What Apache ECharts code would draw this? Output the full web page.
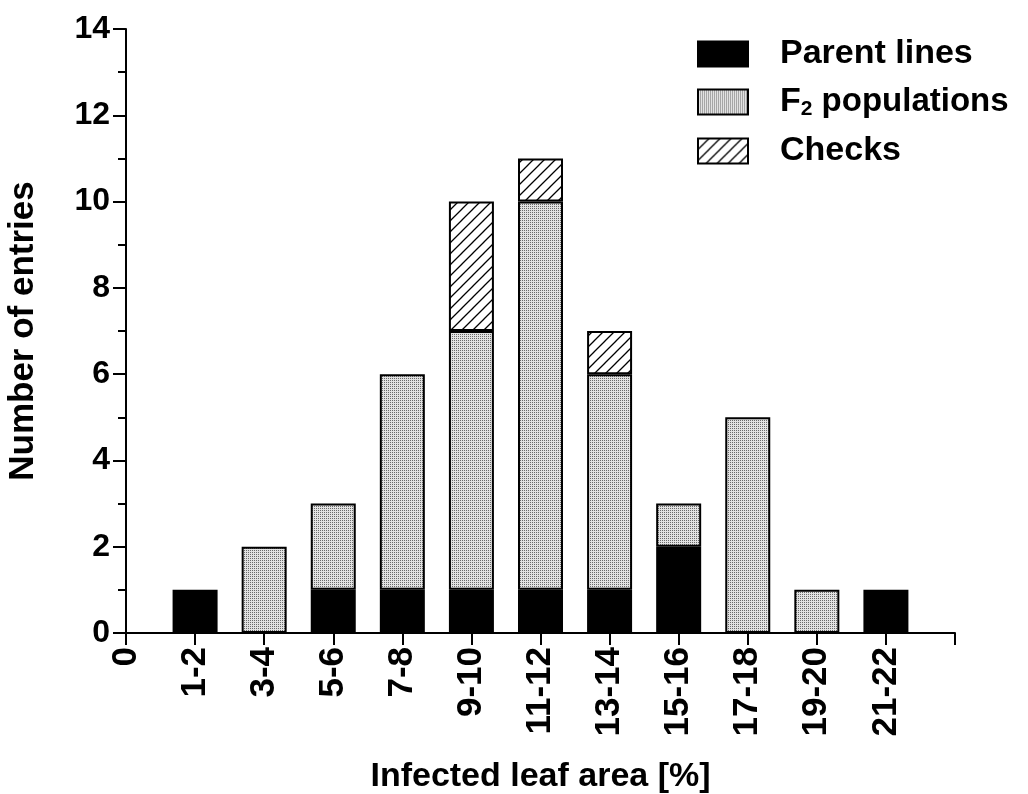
<!DOCTYPE html>
<html>
<head>
<meta charset="utf-8">
<script src="https://cdn.jsdelivr.net/npm/echarts@6/dist/echarts.min.js"></script>
<style>
  html, body { margin: 0; padding: 0; background: #fff; }
  #chart { width: 1028px; height: 794px; }
</style>
</head>
<body>
<div id="chart"></div>
<script>
// ---- data ----
var categories = ["1-2", "3-4", "5-6", "7-8", "9-10", "11-12", "13-14", "15-16", "17-18", "19-20", "21-22"];
var xTickLabels = ["0"].concat(categories).concat([""]);
var parentLines = [1, 0, 1, 1, 1, 1, 1, 2, 0, 0, 1];
var f2Populations = [0, 2, 2, 5, 6, 9, 5, 1, 5, 1, 0];
var checks = [0, 0, 0, 0, 3, 1, 1, 0, 0, 0, 0];
var seriesNames = ["Parent lines", "F2 populations", "Checks"];

// ---- patterns ----
function stipple() {
  var c = document.createElement('canvas');
  c.width = 2; c.height = 2;
  var g = c.getContext('2d');
  g.fillStyle = '#e2e2e2'; g.fillRect(0, 0, 2, 2);
  g.fillStyle = '#6a6a6a'; g.fillRect(0, 0, 1, 1);
  return c;
}
function hatch() {
  var s = 11;
  var c = document.createElement('canvas');
  c.width = s; c.height = s;
  var g = c.getContext('2d');
  g.fillStyle = '#ffffff'; g.fillRect(0, 0, s, s);
  g.strokeStyle = '#000'; g.lineWidth = 1.3;
  g.beginPath();
  g.moveTo(-1, s + 1); g.lineTo(s + 1, -1);
  g.moveTo(-1, 1); g.lineTo(1, -1);
  g.moveTo(s - 1, s + 1); g.lineTo(s + 1, s - 1);
  g.stroke();
  return c;
}
var fills = ['#000000', { image: stipple(), repeat: 'repeat' }, { image: hatch(), repeat: 'repeat' }];
var values = [parentLines, f2Populations, checks];

// pad: empty slot at "0" and at the axis end; zero counts draw nothing
function padded(arr) {
  return ['-'].concat(arr.map(function (v) { return v === 0 ? '-' : v; })).concat(['-']);
}

var FONT = 'Liberation Sans, Arial, Helvetica, sans-serif';

var chart = echarts.init(document.getElementById('chart'), null, { renderer: 'canvas' });

var series = seriesNames.map(function (name, k) {
  return {
    name: name,
    type: 'bar',
    stack: 'total',
    barWidth: 45,
    data: padded(values[k]),
    itemStyle: { color: fills[k], borderColor: '#000', borderWidth: 2 },
    emphasis: { disabled: true },
    animation: false
  };
});

chart.setOption({
  backgroundColor: '#ffffff',
  animation: false,
  grid: { left: 126, right: 73, top: 29, bottom: 161, containLabel: false, outerBoundsMode: 'none' },
  legend: {
    left: 692, top: 32,
    orient: 'vertical',
    itemWidth: 50, itemHeight: 25, itemGap: 14,
    icon: 'rect',
    selectedMode: false,
    data: seriesNames,
    formatter: function (n) {
      if (n === 'F2 populations') return '{a|F}{s|2}{b| populations}';
      return '{a|' + n + '}';
    },
    textStyle: {
      padding: [0, 0, 0, 27],
      rich: {
        a: { fontFamily: FONT, fontWeight: 'bold', fontSize: 34, lineHeight: 36, color: '#000' },
        b: { fontFamily: FONT, fontWeight: 'bold', fontSize: 33, lineHeight: 36, color: '#000' },
        s: { fontFamily: FONT, fontWeight: 'bold', fontSize: 21, lineHeight: 16, verticalAlign: 'bottom', color: '#000' }
      }
    }
  },
  xAxis: {
    type: 'category',
    data: xTickLabels,
    boundaryGap: false,
    splitLine: { show: false },
    axisLine: { show: true, lineStyle: { color: '#000', width: 2 } },
    axisTick: { show: true, length: 12, interval: 0, lineStyle: { color: '#000', width: 2 } },
    axisLabel: {
      rotate: 90, margin: 14, interval: 0,
      fontFamily: FONT, fontWeight: 'bold', fontSize: 35, color: '#000'
    },
    name: 'Infected leaf area [%]',
    nameLocation: 'middle',
    nameGap: 127,
    nameTextStyle: { fontFamily: FONT, fontWeight: 'bold', fontSize: 34, color: '#000' }
  },
  yAxis: {
    type: 'value',
    min: 0, max: 14, interval: 2,
    splitLine: { show: false },
    axisLine: { show: true, lineStyle: { color: '#000', width: 2 } },
    axisTick: { show: true, length: 13, lineStyle: { color: '#000', width: 2 } },
    minorTick: { show: true, splitNumber: 2, length: 8, lineStyle: { color: '#000', width: 2 } },
    axisLabel: { margin: 16, fontFamily: FONT, fontWeight: 'bold', fontSize: 32, color: '#000' },
    name: 'Number of entries',
    nameLocation: 'middle',
    nameGap: 85,
    nameTextStyle: { fontFamily: FONT, fontWeight: 'bold', fontSize: 35, color: '#000' }
  },
  series: series
});
</script>
</body>
</html>
